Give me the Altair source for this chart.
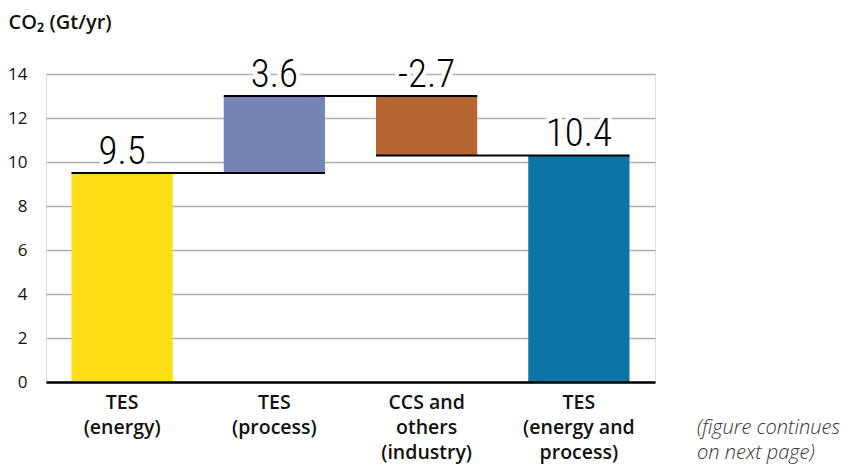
import altair as alt
import pandas as pd

categories = ["TES|(energy)", "TES|(process)", "CCS and|others|(industry)", "TES|(energy and|process)"]
starts = [0.0, 9.5, 13.0, 0.0]
ends = [9.5, 13.0, 10.3, 10.3]
value_labels = ["9.5", "3.6", "-2.7", "10.4"]
colors = ["#FEDD15", "#7584B5", "#B56530", "#0D75A6"]

conn_from = categories[:-1]
conn_to = categories[1:]
conn_level = [9.5, 13.0, 10.3]

df = pd.DataFrame({
    "cat": categories,
    "start": starts,
    "end": ends,
    "label": value_labels,
    "color": colors,
})
df["top"] = df[["start", "end"]].max(axis=1)
conn = pd.DataFrame({"from": conn_from, "to": conn_to, "level": conn_level})

FONT = "Open Sans"
NUMFONT = "Roboto Condensed"

xscale = alt.Scale(domain=categories, paddingInner=0.335, paddingOuter=0.1675)
yscale = alt.Scale(domain=[0, 14], nice=False)

x_enc = alt.X("cat:N", scale=xscale, sort=categories, title=None,
              axis=alt.Axis(labelExpr="split(datum.label, '|')", labelAngle=0,
                            labelFont=FONT, labelFontSize=19.5, labelFontWeight=600,
                            labelColor="#111111", labelLineHeight=25, labelPadding=11,
                            ticks=False, domainColor="#000000", domainWidth=2.5,
                            zindex=1, grid=False))
y_enc = alt.Y("start:Q", scale=yscale,
              axis=alt.Axis(values=[0, 2, 4, 6, 8, 10, 12, 14], ticks=False, domain=False,
                            labelFont=FONT, labelFontSize=17, labelColor="#111111",
                            labelPadding=19, gridColor="#AEAEAE", gridWidth=1.6,
                            title="CO₂ (Gt/yr)", titleAngle=0, titleX=-38, titleY=-52,
                            titleAlign="left", titleBaseline="middle", titleFont=FONT,
                            titleFontSize=20, titleFontWeight=600, titleColor="#111111"))

bars = alt.Chart(df).mark_bar().encode(
    x=x_enc,
    y=y_enc,
    y2="end:Q",
    color=alt.Color("color:N", scale=None),
)

rules = alt.Chart(conn).mark_rule(color="#000000", strokeWidth=2).encode(
    x=alt.X("from:N", scale=xscale, sort=categories, bandPosition=0),
    x2=alt.X2("to:N", bandPosition=1),
    y=alt.Y("level:Q", scale=yscale),
)

halo = alt.Chart(df).mark_text(font=NUMFONT, fontSize=39, fontWeight=300, dy=-21,
                               baseline="middle", stroke="white", strokeWidth=8,
                               fill="white").encode(
    x=alt.X("cat:N", scale=xscale, sort=categories),
    y=alt.Y("top:Q", scale=yscale),
    text="label:N",
)
nums = alt.Chart(df).mark_text(font=NUMFONT, fontSize=39, fontWeight=300, dy=-21,
                               baseline="middle", color="#000000").encode(
    x=alt.X("cat:N", scale=xscale, sort=categories),
    y=alt.Y("top:Q", scale=yscale),
    text="label:N",
)

note = alt.Chart(pd.DataFrame({"n": [0]})).mark_text(
    font=FONT, fontSize=20, fontStyle="italic", fontWeight=300, color="#333333",
    align="left", baseline="alphabetic", lineHeight=25,
).encode(
    x=alt.value(651), y=alt.value(360),
    text=alt.value(["(figure continues", "on next page)"]),
)

chart = alt.layer(bars, rules, halo, nums, note).properties(
    width=609, height=308,
    autosize=alt.AutoSizeParams(type="none"),
    padding={"left": 38, "top": 66, "right": 197, "bottom": 82},
).configure_view(stroke=None).configure(background="white")

chart.save("out.html", embed_options={"renderer": "svg", "actions": False})
